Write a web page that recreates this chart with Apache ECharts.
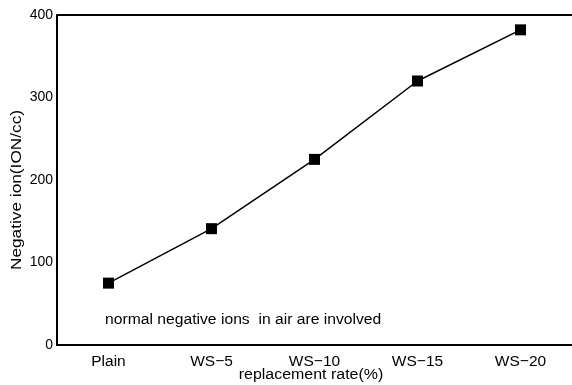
<!DOCTYPE html>
<html>
<head>
<meta charset="utf-8">
<script src="https://cdn.jsdelivr.net/npm/echarts@6/dist/echarts.min.js"></script>
<style>
  html, body { margin: 0; padding: 0; background: #fff; overflow: hidden; }
  #chart { width: 572px; height: 385px; }
</style>
</head>
<body>
<div id="chart"></div>
<script>
// Negative ion concentration by replacement rate
const categories = ['Plain', 'WS\u22125', 'WS\u221210', 'WS\u221215', 'WS\u221220'];
const negativeIons = [75, 141, 225, 320, 382];
const yTicks = [0, 100, 200, 300, 400];

const FONT = '"Liberation Sans", Arial, Helvetica, sans-serif';

const chart = echarts.init(document.getElementById('chart'), null, { renderer: 'canvas', width: 572, height: 385 });

chart.setOption({
  backgroundColor: '#ffffff',
  animation: false,
  grid: { left: 57, top: 15, width: 518, height: 330, containLabel: false },
  xAxis: {
    type: 'category',
    data: categories,
    boundaryGap: true,
    axisLine: { show: true, lineStyle: { color: '#000', width: 2 } },
    axisTick: { show: false },
    axisLabel: { color: '#000', fontFamily: FONT, fontSize: 15.5, margin: 9 },
    splitLine: { show: false }
  },
  yAxis: {
    type: 'value',
    min: yTicks[0],
    max: yTicks[yTicks.length - 1],
    interval: 100,
    axisLine: { show: true, lineStyle: { color: '#000', width: 2 } },
    axisTick: { show: false },
    axisLabel: { color: '#000', fontFamily: FONT, fontSize: 14, margin: 4 },
    // only the frame's top edge is drawn from the split lines
    splitLine: {
      show: true,
      lineStyle: {
        color: ['transparent', 'transparent', 'transparent', 'transparent', '#000'],
        width: 2
      }
    }
  },
  graphic: [
    {
      type: 'text',
      x: 17,
      y: 190,
      rotation: Math.PI / 2,
      scaleX: 1.15,
      style: {
        text: 'Negative ion(ION/cc)',
        fill: '#000',
        font: '15px ' + FONT,
        align: 'center',
        verticalAlign: 'middle'
      }
    },
    {
      type: 'text',
      x: 311,
      y: 375,
      scaleX: 1.14,
      style: {
        text: 'replacement rate(%)',
        fill: '#000',
        font: '14px ' + FONT,
        align: 'center',
        verticalAlign: 'middle'
      }
    },
    {
      type: 'text',
      x: 105,
      y: 320,
      scaleX: 1.12,
      style: {
        text: 'normal negative ions  in air are involved',
        fill: '#000',
        font: '14px ' + FONT,
        align: 'left',
        verticalAlign: 'middle'
      }
    }
  ],
  series: [{
    type: 'line',
    data: negativeIons,
    symbol: 'rect',
    symbolSize: 11,
    itemStyle: { color: '#000' },
    lineStyle: { color: '#000', width: 1.5 },
    label: { show: false }
  }]
});
</script>
</body>
</html>
